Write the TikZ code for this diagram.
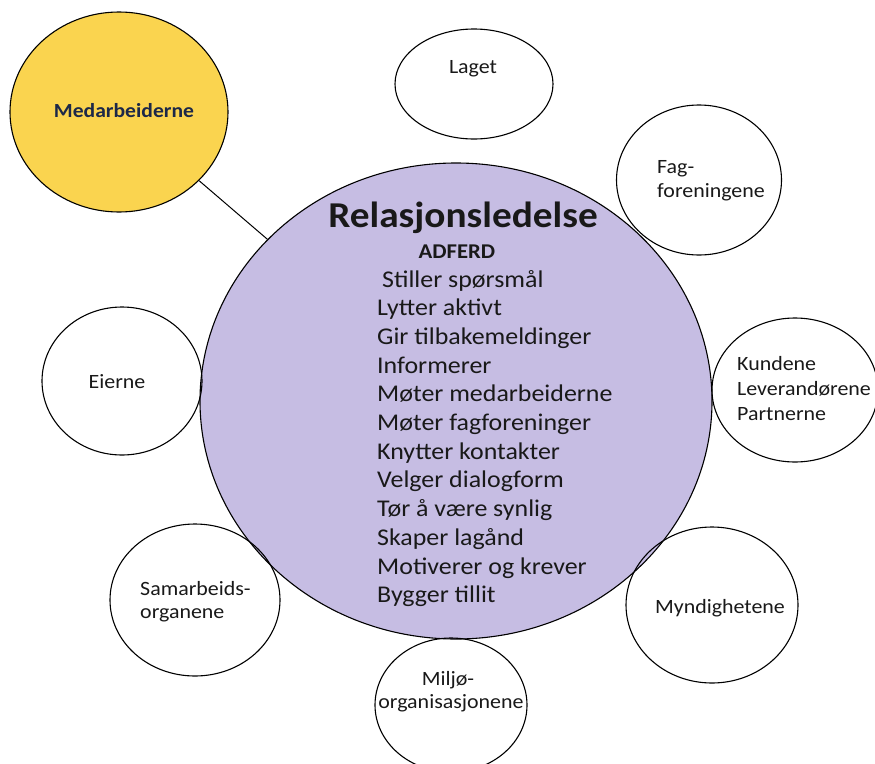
\documentclass[tikz,border=0pt]{standalone}
\usepackage{fontspec}
\setmainfont{Carlito}[FakeStretch=1.08]
\usetikzlibrary{shapes.geometric}

\definecolor{hubfill}{RGB}{198,189,227}
\definecolor{keyfill}{RGB}{250,212,79}
\definecolor{keytext}{RGB}{28,40,72}
\definecolor{ink}{RGB}{25,25,25}

\tikzset{
  bubble/.style 2 args={ellipse, draw=black, line width=1.1pt, inner sep=0pt,
    minimum width=#1pt, minimum height=#2pt},
  txt/.style={font=\fontsize{20.3}{24}\selectfont, text=ink, inner sep=0pt},
  item/.style={font=\fontsize{24}{28}\selectfont, text=ink, inner sep=0pt, anchor=base west},
  link/.style={draw=black, line width=1pt},
}

\begin{document}
\begin{tikzpicture}[x=1pt,y=-1pt]
\useasboundingbox (0,0) rectangle (875,763);
\fill[white] (0,0) rectangle (875,763);

% central hub and the stakeholder bubbles around it
\node[bubble={512}{476}, fill=hubfill] (hub) at (456,401) {};
\node[bubble={218}{200}, fill=keyfill] (med) at (119,112) {};
\node[bubble={158}{110}] (laget) at (474,84) {};
\node[bubble={165}{150}] (fag) at (699,180) {};
\node[bubble={166}{144}] (kunde) at (795,390) {};
\node[bubble={172}{156}] (mynd) at (712,605) {};
\node[bubble={152}{134}] (miljo) at (451,705) {};
\node[bubble={170}{152}] (samarb) at (195,600) {};
\node[bubble={160}{148}] (eier) at (122,381) {};

\draw[link] (med) -- (hub);

% bubble labels
\node[txt, font=\bfseries\fontsize{20}{24}\selectfont, text=keytext, anchor=base] (tmed) at (124,117) {Medarbeiderne};
\node[txt, anchor=base] (tlaget) at (473,73) {Laget};
\node[txt, anchor=base west] (tfag1) at (657,173) {Fag-};
\node[txt, anchor=base west] (tfag2) at (657,197) {foreningene};
\node[txt, anchor=base west] (tkun1) at (737,370) {Kundene};
\node[txt, anchor=base west] (tkun2) at (737,395) {Leverandørene};
\node[txt, anchor=base west] (tkun3) at (737,420) {Partnerne};
\node[txt, anchor=base] (tmynd) at (720,613) {Myndighetene};
\node[txt, anchor=base] (tmil1) at (448,685) {Miljø-};
\node[txt, anchor=base] (tmil2) at (451,708) {organisasjonene};
\node[txt, anchor=base west] (tsam1) at (140,595) {Samarbeids-};
\node[txt, anchor=base west] (tsam2) at (140,618) {organene};
\node[txt, anchor=base] (teier) at (117,388) {Eierne};

% hub heading and behaviour list
\node[txt, font=\bfseries\fontsize{36.4}{40}\selectfont, anchor=base] (title) at (463,227) {Relasjonsledelse};
\node[txt, font=\bfseries\fontsize{21}{24}\selectfont, anchor=base] (adferd) at (457,258) {ADFERD};
\node[item] (item1) at (382,287) {Stiller spørsmål};
\foreach \t [count=\i from 2] in {Lytter aktivt, Gir tilbakemeldinger, Informerer,
    Møter medarbeiderne, Møter fagforeninger, Knytter kontakter, Velger dialogform,
    Tør å være synlig, Skaper lagånd, Motiverer og krever, Bygger tillit}
  \node[item] (item\i) at (377,{287+(\i-1)*28.7}) {\t};
\end{tikzpicture}
\end{document}
